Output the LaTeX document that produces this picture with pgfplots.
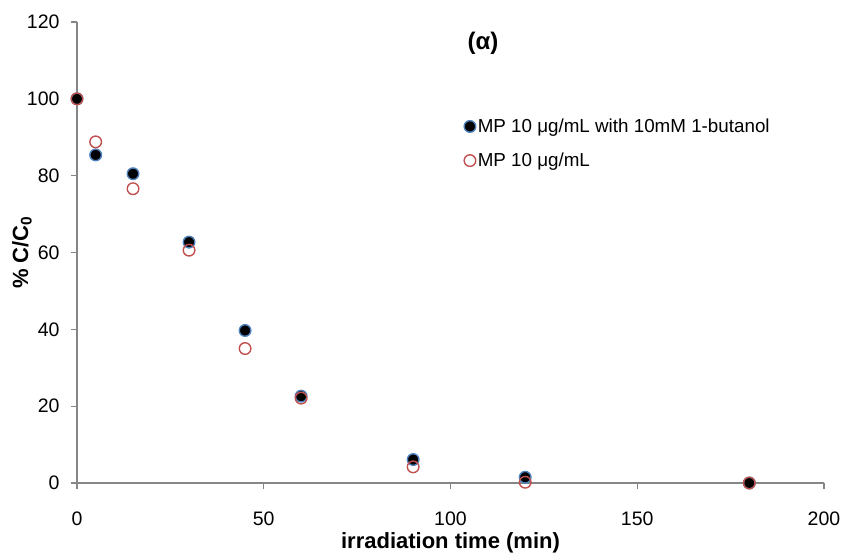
\documentclass[border=0pt]{standalone}
\usepackage{pgfplots}
\pgfplotsset{compat=1.18}
\usepackage{fontspec}
\setmainfont{Liberation Sans}
\definecolor{axgray}{RGB}{134,134,134}
\definecolor{mblue}{RGB}{79,129,189}
\definecolor{mred}{RGB}{192,80,77}
\begin{document}
\begin{tikzpicture}
\begin{axis}[
 scale only axis, width=747pt, height=461pt,
 xmin=0, xmax=200, ymin=0, ymax=120,
 axis lines=left,
 axis line style={-, draw=axgray, line width=1.3pt},
 xtick={0,50,...,200}, ytick={0,20,...,120},
 tick align=outside, major tick length=6pt,
 tick style={draw=axgray, line width=1.3pt},
 tick label style={font=\fontsize{19.5}{22}\selectfont},
 yticklabel style={xshift=-8pt},
 xticklabel style={yshift=-19pt},
 /pgf/number format/assume math mode=true,
 xlabel={\textbf{irradiation time (min)}},
 ylabel={\textbf{\% C/C\textsubscript{0}}},
 label style={font=\fontsize{22}{26}\selectfont},
 xlabel style={at={(axis description cs:0.5,0)}, anchor=center, yshift=-60pt},
 ylabel style={at={(axis description cs:0,0.5)}, anchor=center, yshift=55pt},
 legend style={draw=none, fill=none, at={(rel axis cs:0.518,0.7364)}, anchor=west,
   font=\fontsize{18.8}{22}\selectfont, row sep=15pt, inner sep=0pt,
   /tikz/every even column/.append style={column sep=2pt}},
 legend cell align=left,
 clip=false,
]
\addplot[only marks, mark=*, mark size=5.8pt, mark options={draw=mblue, fill=black, line width=1.4pt}]
 coordinates {(0,100) (5,85.4) (15,80.5) (30,62.7) (45,39.7) (60,22.6) (90,6.1) (120,1.5) (180,0)};
\addlegendentry{MP 10 μg/mL with 10mM 1-butanol}
\addplot[only marks, mark=o, mark size=5.8pt, mark options={draw=mred, fill=none, line width=1.4pt}]
 coordinates {(0,100) (5,88.8) (15,76.6) (30,60.6) (45,35.0) (60,22.1) (90,4.2) (120,0.2) (180,0)};
\addlegendentry{MP 10 μg/mL}
\node[font=\fontsize{24}{28}\selectfont\bfseries] at (axis cs:108.7,114.5) {(α)};
\coordinate (sw) at (rel axis cs:0,0);
\coordinate (ne) at (rel axis cs:1,1);
\end{axis}
\pgfresetboundingbox
\path[use as bounding box] ([shift={(-77pt,-71pt)}]sw) rectangle ([shift={(20pt,22pt)}]ne);
\end{tikzpicture}
\end{document}
